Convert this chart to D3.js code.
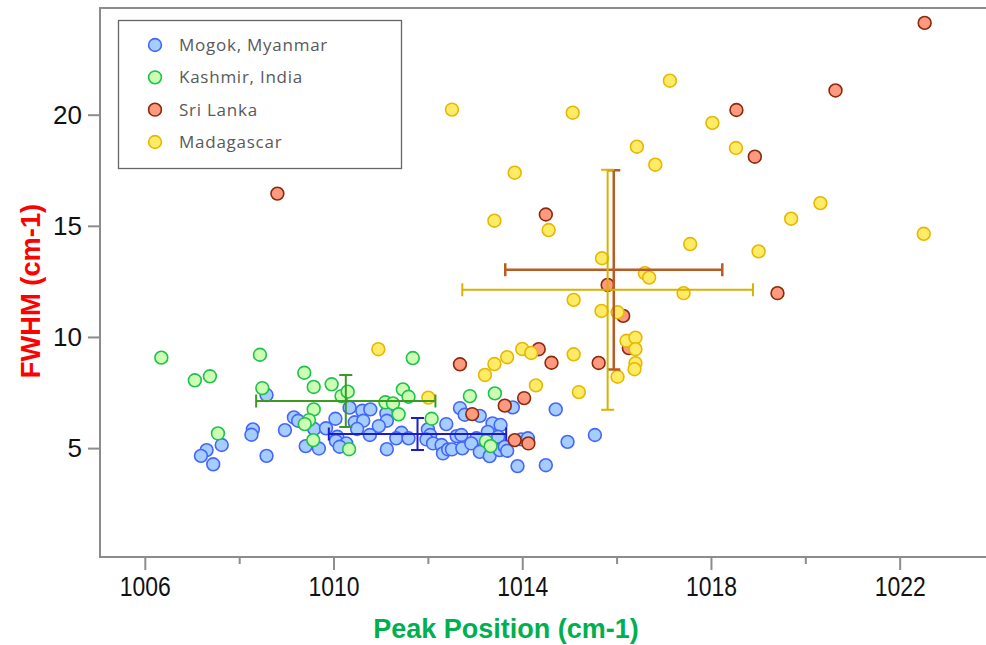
<!DOCTYPE html>
<html>
<head>
<meta charset="utf-8">
<script src="https://cdn.jsdelivr.net/npm/d3@7"></script>
<style>
  body { margin: 0; background: #fff; }
  svg { display: block; }
  .tick text { font-family: "Liberation Sans", Arial, sans-serif; fill: #111; }
</style>
</head>
<body>
<svg id="chart"></svg>
<script>
// peak position (cm-1) / FWHM (cm-1)
const mogokPeak = [1008.58, 1009.16, 1009.25, 1009.59, 1008.97, 1008.29, 1008.26, 1007.63, 1007.31, 1007.19,
  1008.58, 1007.45, 1009.41, 1009.69, 1010.34, 1010.61, 1010.78, 1011.12, 1011.13, 1010.04,
  1010.45, 1010.63, 1010.50, 1010.96, 1009.84, 1010.77, 1011.44, 1011.33, 1011.59, 1010.08,
  1010.05, 1010.27, 1010.13, 1011.13, 1012.39, 1012.00, 1012.05, 1011.97, 1012.11, 1012.29,
  1012.32, 1012.43, 1012.68, 1012.78, 1013.10, 1013.80, 1014.71, 1013.37, 1013.54, 1012.61,
  1012.71, 1013.03, 1013.27, 1013.49, 1012.51, 1012.73, 1012.92, 1013.10, 1013.31, 1013.52,
  1013.63, 1013.68, 1013.98, 1014.12, 1013.90, 1014.50, 1014.96, 1015.54];
const mogokFwhm = [7.39, 6.38, 6.23, 5.86, 5.81, 5.84, 5.60, 5.14, 4.91, 4.65,
  4.65, 4.27, 5.09, 4.98, 6.82, 6.68, 6.74, 6.56, 6.23, 6.32,
  6.16, 6.23, 5.86, 5.99, 5.89, 5.59, 5.69, 5.44, 5.44, 5.51,
  5.32, 5.21, 5.06, 4.95, 6.08, 5.84, 5.59, 5.39, 5.21, 5.14,
  4.76, 4.94, 6.80, 6.50, 6.45, 6.83, 6.74, 6.11, 6.04, 5.54,
  5.59, 5.44, 5.73, 5.51, 4.94, 4.99, 5.21, 4.83, 4.64, 4.91,
  5.06, 4.88, 5.39, 5.44, 4.19, 4.23, 5.28, 5.59];

const kashmirPeak = [1006.35, 1008.44, 1007.06, 1007.38, 1009.38, 1008.49, 1009.58, 1009.58, 1009.48, 1009.39,
  1007.55, 1009.57, 1011.68, 1009.96, 1010.17, 1010.30, 1011.47, 1011.59, 1011.10, 1011.26,
  1011.38, 1010.33, 1012.08, 1012.89, 1013.42, 1013.23, 1013.33];
const kashmirFwhm = [9.07, 9.20, 8.05, 8.23, 8.39, 7.70, 7.75, 6.74, 6.26, 6.08,
  5.66, 5.36, 9.05, 7.87, 7.34, 7.54, 7.64, 7.31, 7.06, 7.01,
  6.52, 4.95, 6.32, 7.34, 7.46, 5.32, 5.09];

const sriLankaPeak = [1022.53, 1020.64, 1018.54, 1018.93, 1008.81, 1014.50, 1015.81, 1016.14, 1016.26, 1015.62,
  1019.41, 1012.68, 1014.35, 1014.62, 1012.94, 1013.63, 1014.04, 1013.84, 1014.13];
const sriLankaFwhm = [24.13, 21.09, 20.21, 18.11, 16.45, 15.51, 12.34, 10.95, 9.50, 8.83,
  11.97, 8.77, 9.45, 8.84, 6.53, 6.91, 7.25, 5.36, 5.21];

const madagascarPeak = [1012.51, 1015.07, 1017.13, 1018.03, 1016.43, 1018.53, 1016.82, 1013.84, 1020.32, 1019.70,
  1013.41, 1014.56, 1022.51, 1019.01, 1017.56, 1015.69, 1016.60, 1016.69, 1017.42, 1015.09,
  1015.68, 1016.02, 1016.21, 1016.40, 1016.40, 1016.40, 1016.38, 1016.02, 1015.09, 1015.20,
  1014.00, 1014.19, 1013.68, 1013.41, 1013.21, 1014.29, 1012.01, 1010.95];
const madagascarFwhm = [20.23, 20.09, 21.53, 19.63, 18.56, 18.50, 17.75, 17.39, 16.02, 15.32,
  15.23, 14.81, 14.64, 13.85, 14.18, 13.54, 12.87, 12.67, 11.97, 11.67,
  11.17, 11.11, 9.83, 9.97, 9.45, 8.82, 8.55, 8.21, 9.22, 7.52,
  9.46, 9.28, 9.09, 8.78, 8.29, 7.82, 7.27, 9.45];

// mean +/- spread per locality
const origins = ['Mogok, Myanmar', 'Kashmir, India', 'Sri Lanka', 'Madagascar'];
const meanPeak = [1011.78, 1010.26, 1015.94, 1015.81];
const meanFwhm = [5.63, 7.12, 13.02, 12.12];
const errPeak = [1.88, 1.90, 2.30, 3.08];
const errFwhm = [0.72, 1.17, 4.48, 5.40];

const xTicks = [1006, 1010, 1014, 1018, 1022];
const xMinorTicks = [1008, 1012, 1016, 1020];
const yTicks = [5, 10, 15, 20];

const fills = ['#a6cdff', '#ccffb3', '#ff9980', '#ffeb66'];
const strokes = ['#4466ff', '#1ec24a', '#8b2a0a', '#e6b800'];
const errColors = ['#1c1cc8', '#3c9a1e', '#b85c24', '#d9b300'];

const W = 986, H = 645;
const plot = {left: 100, top: 8, right: 986, bottom: 557};

const svg = d3.select('#chart').attr('width', W).attr('height', H);

const x = d3.scaleLinear().domain([1005.05, 1023.83]).range([plot.left, plot.right]);
const y = d3.scaleLinear().domain([0.1, 24.8]).range([plot.bottom, plot.top]);

// frame
svg.append('path')
    .attr('d', `M${plot.right},${plot.top}H${plot.left}V${plot.bottom}H${plot.right}`)
    .attr('fill', 'none')
    .attr('stroke', '#8c8c8c')
    .attr('stroke-width', 2);

// axes
const xAxis = svg.append('g')
    .attr('transform', `translate(0,${plot.bottom})`)
    .call(d3.axisBottom(x).tickValues(xTicks).tickFormat(d3.format('d')).tickSize(13).tickPadding(6));
svg.append('g')
    .attr('transform', `translate(0,${plot.bottom})`)
    .call(d3.axisBottom(x).tickValues(xMinorTicks).tickFormat('').tickSize(7))
    .call(g => g.select('.domain').remove());
const yAxis = svg.append('g')
    .attr('transform', `translate(${plot.left},0)`)
    .call(d3.axisLeft(y).tickValues(yTicks).tickSize(12).tickPadding(6));

svg.selectAll('.domain').remove();
svg.selectAll('.tick line').attr('stroke', '#8c8c8c').attr('stroke-width', 2);
xAxis.selectAll('.tick text').attr('font-size', 28).attr('transform', 'scale(0.82,1)');
yAxis.selectAll('.tick text').attr('font-size', 26);

// axis titles
svg.append('text')
    .attr('x', 506)
    .attr('y', 638)
    .attr('text-anchor', 'middle')
    .attr('font-family', '"Liberation Sans", Arial, sans-serif')
    .attr('font-weight', 'bold')
    .attr('font-size', 27)
    .attr('fill', '#00b050')
    .text('Peak Position (cm-1)');
svg.append('text')
    .attr('transform', 'translate(40,291) rotate(-90)')
    .attr('text-anchor', 'middle')
    .attr('font-family', '"Liberation Sans", Arial, sans-serif')
    .attr('font-weight', 'bold')
    .attr('font-size', 27.3)
    .attr('fill', '#ff0000')
    .text('FWHM (cm-1)');

// points, drawn in legend order
const series = [
  d3.zip(mogokPeak, mogokFwhm),
  d3.zip(kashmirPeak, kashmirFwhm),
  d3.zip(sriLankaPeak, sriLankaFwhm),
  d3.zip(madagascarPeak, madagascarFwhm)
];
series.forEach((pts, i) => {
  svg.append('g').selectAll('circle')
      .data(pts)
      .join('circle')
      .attr('cx', d => x(d[0]))
      .attr('cy', d => y(d[1]))
      .attr('r', 6.4)
      .attr('fill', fills[i])
      .attr('stroke', strokes[i])
      .attr('stroke-width', 1.6);
});

// error crosses on top
const cap = 6.5;
origins.forEach((o, i) => {
  const g = svg.append('g')
      .attr('stroke', errColors[i])
      .attr('stroke-width', i === 2 ? 2.5 : 2)
      .attr('fill', 'none');
  const cx = x(meanPeak[i]), cy = y(meanFwhm[i]);
  const x0 = x(meanPeak[i] - errPeak[i]), x1 = x(meanPeak[i] + errPeak[i]);
  const y0 = y(meanFwhm[i] - errFwhm[i]), y1 = y(meanFwhm[i] + errFwhm[i]);
  g.append('path').attr('d',
    `M${x0},${cy}H${x1}` +
    `M${x0},${cy - cap}V${cy + cap}M${x1},${cy - cap}V${cy + cap}` +
    `M${cx},${y0}V${y1}` +
    `M${cx - cap},${y0}H${cx + cap}M${cx - cap},${y1}H${cx + cap}`);
});

// legend
const legend = svg.append('g');
legend.append('rect')
    .attr('x', 118.5).attr('y', 20.5)
    .attr('width', 283).attr('height', 148)
    .attr('fill', '#fff')
    .attr('stroke', '#666')
    .attr('stroke-width', 1.3);
const rowY = d3.scalePoint().domain(origins).range([45, 142]);
origins.forEach((o, i) => {
  legend.append('circle')
      .attr('cx', 155).attr('cy', rowY(o)).attr('r', 6.4)
      .attr('fill', fills[i]).attr('stroke', strokes[i]).attr('stroke-width', 1.6);
  legend.append('text')
      .attr('x', 179).attr('y', rowY(o))
      .attr('dy', '0.35em')
      .attr('font-family', '"Open Sans", sans-serif')
      .attr('font-size', 17)
      .attr('letter-spacing', 0.75)
      .attr('fill', '#595959')
      .text(o);
});
</script>
</body>
</html>
